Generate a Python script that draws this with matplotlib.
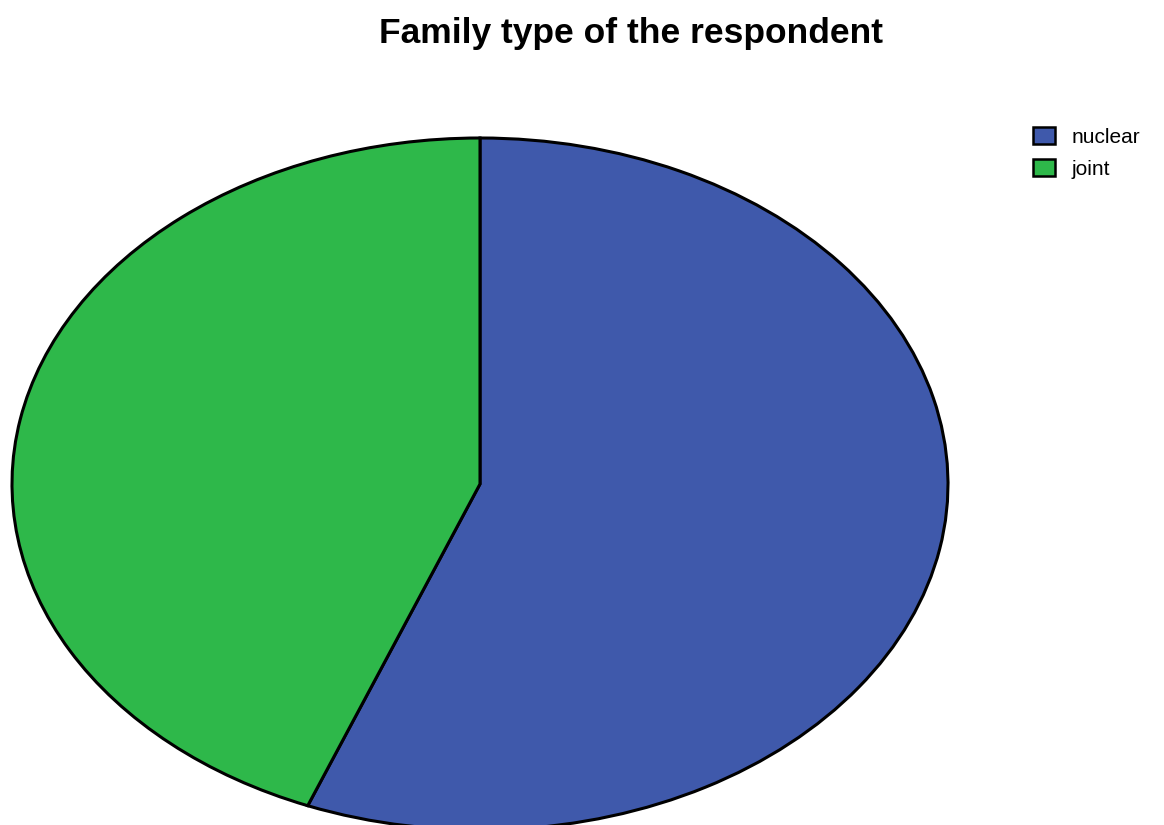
import matplotlib.pyplot as plt
from matplotlib.patches import Patch

labels = ['nuclear', 'joint']
values = [56, 44]
colors = ['#3f59ab', '#2eb84a']

plt.rcParams['font.family'] = ['Liberation Sans', 'DejaVu Sans']

fig = plt.figure(figsize=(11.64, 8.25), dpi=100)
W, H = 1164, 825
# ellipse box in pixels: x 12..948, y 138..830
ax = fig.add_axes([12 / W, 1 - 830 / H, (948 - 12) / W, (830 - 138) / H])
ax.pie(values, colors=colors, startangle=90, counterclock=False,
       wedgeprops=dict(edgecolor='black', linewidth=2.2), radius=1)
ax.set_aspect('auto')
ax.set_xlim(-1, 1)
ax.set_ylim(-1, 1)
ax.axis('off')

fig.text(631 / W, 1 - 33 / H, 'Family type of the respondent', ha='center', va='center',
         fontsize=25.5, fontweight='bold')

handles = [Patch(facecolor=c, edgecolor='black', linewidth=1.8) for c in colors]
fig.legend(handles, labels, loc='upper left', bbox_to_anchor=(1033 / W, 1 - 127 / H),
           frameon=False, fontsize=15, handlelength=1.06, handleheight=0.87,
           handletextpad=0.8, labelspacing=0.6, borderpad=0, borderaxespad=0)

fig.savefig('out.png', dpi=100)
